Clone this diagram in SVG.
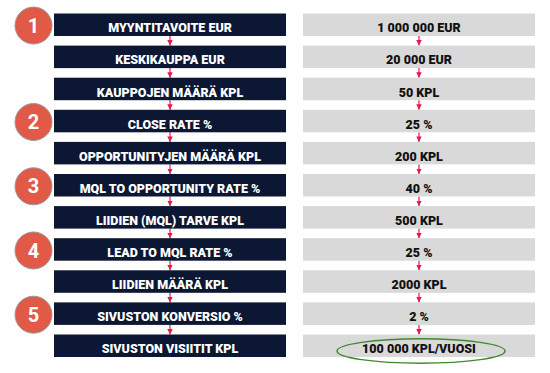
<svg xmlns="http://www.w3.org/2000/svg" width="550" height="373" viewBox="0 0 550 373">
<style>
.dk{fill:#0b1733}
.gr{fill:#d9d9d9}
.tw{font-family:Roboto,"Liberation Sans",sans-serif;font-weight:900;font-size:12.5px;fill:#ffffff;text-anchor:middle}
.tb{font-family:Roboto,"Liberation Sans",sans-serif;font-weight:900;font-size:12.5px;fill:#111111;text-anchor:middle}
.cir{fill:#e05a47;stroke:#9a9a9a;stroke-width:1}
.num{font-family:Roboto,"Liberation Sans",sans-serif;font-weight:700;font-size:20px;fill:#ffffff;text-anchor:middle}
.ar{stroke:#e8184d;stroke-width:1.2;fill:none;marker-end:url(#ah)}
</style>
<defs>
<marker id="ah" viewBox="0 0 6 6" refX="6" refY="3" markerWidth="5.5" markerHeight="5.5" markerUnits="userSpaceOnUse" orient="auto">
<path d="M0,0 L6,3 L0,6 z" fill="#e8184d"/>
</marker>
</defs>
<g id="connectors">
<line class="ar" x1="170" y1="36" x2="170" y2="45.6"/>
<line class="ar" x1="170" y1="68.1" x2="170" y2="77.7"/>
<line class="ar" x1="170" y1="100.2" x2="170" y2="109.8"/>
<line class="ar" x1="170" y1="132.3" x2="170" y2="141.9"/>
<line class="ar" x1="170" y1="164.4" x2="170" y2="174"/>
<line class="ar" x1="170" y1="196.5" x2="170" y2="206.1"/>
<line class="ar" x1="170" y1="228.6" x2="170" y2="238.2"/>
<line class="ar" x1="170" y1="260.7" x2="170" y2="270.3"/>
<line class="ar" x1="170" y1="292.8" x2="170" y2="302.4"/>
<line class="ar" x1="170" y1="324.9" x2="170" y2="334.5"/>
<line class="ar" x1="419" y1="36" x2="419" y2="45.6"/>
<line class="ar" x1="419" y1="68.1" x2="419" y2="77.7"/>
<line class="ar" x1="419" y1="100.2" x2="419" y2="109.8"/>
<line class="ar" x1="419" y1="132.3" x2="419" y2="141.9"/>
<line class="ar" x1="419" y1="164.4" x2="419" y2="174"/>
<line class="ar" x1="419" y1="196.5" x2="419" y2="206.1"/>
<line class="ar" x1="419" y1="228.6" x2="419" y2="238.2"/>
<line class="ar" x1="419" y1="260.7" x2="419" y2="270.3"/>
<line class="ar" x1="419" y1="292.8" x2="419" y2="302.4"/>
<line class="ar" x1="419" y1="324.9" x2="419" y2="334.5"/>
</g>
<g id="n0"><rect class="dk" x="54" y="13.5" width="232" height="22.5"/><text class="tw" x="170" y="32.3">MYYNTITAVOITE EUR</text></g>
<g id="n1"><rect class="dk" x="54" y="45.6" width="232" height="22.5"/><text class="tw" x="170" y="64.4">KESKIKAUPPA EUR</text></g>
<g id="n2"><rect class="dk" x="54" y="77.7" width="232" height="22.5"/><text class="tw" x="170" y="96.5">KAUPPOJEN MÄÄRÄ KPL</text></g>
<g id="n3"><rect class="dk" x="54" y="109.8" width="232" height="22.5"/><text class="tw" x="170" y="128.6">CLOSE RATE %</text></g>
<g id="n4"><rect class="dk" x="54" y="141.9" width="232" height="22.5"/><text class="tw" x="170" y="160.7">OPPORTUNITYJEN MÄÄRÄ KPL</text></g>
<g id="n5"><rect class="dk" x="54" y="174" width="232" height="22.5"/><text class="tw" x="170" y="192.8">MQL TO OPPORTUNITY RATE %</text></g>
<g id="n6"><rect class="dk" x="54" y="206.1" width="232" height="22.5"/><text class="tw" x="170" y="224.9">LIIDIEN (MQL) TARVE KPL</text></g>
<g id="n7"><rect class="dk" x="54" y="238.2" width="232" height="22.5"/><text class="tw" x="170" y="257">LEAD TO MQL RATE %</text></g>
<g id="n8"><rect class="dk" x="54" y="270.3" width="232" height="22.5"/><text class="tw" x="170" y="289.1">LIIDIEN MÄÄRÄ KPL</text></g>
<g id="n9"><rect class="dk" x="54" y="302.4" width="232" height="22.5"/><text class="tw" x="170" y="321.2">SIVUSTON KONVERSIO %</text></g>
<g id="n10"><rect class="dk" x="54" y="334.5" width="232" height="22.5"/><text class="tw" x="170" y="353.3">SIVUSTON VISIITIT KPL</text></g>
<g id="v0"><rect class="gr" x="303" y="13.5" width="232" height="22.5"/><text class="tb" x="419" y="32.3">1 000 000 EUR</text></g>
<g id="v1"><rect class="gr" x="303" y="45.6" width="232" height="22.5"/><text class="tb" x="419" y="64.4">20 000 EUR</text></g>
<g id="v2"><rect class="gr" x="303" y="77.7" width="232" height="22.5"/><text class="tb" x="419" y="96.5">50 KPL</text></g>
<g id="v3"><rect class="gr" x="303" y="109.8" width="232" height="22.5"/><text class="tb" x="419" y="128.6">25 %</text></g>
<g id="v4"><rect class="gr" x="303" y="141.9" width="232" height="22.5"/><text class="tb" x="419" y="160.7">200 KPL</text></g>
<g id="v5"><rect class="gr" x="303" y="174" width="232" height="22.5"/><text class="tb" x="419" y="192.8">40 %</text></g>
<g id="v6"><rect class="gr" x="303" y="206.1" width="232" height="22.5"/><text class="tb" x="419" y="224.9">500 KPL</text></g>
<g id="v7"><rect class="gr" x="303" y="238.2" width="232" height="22.5"/><text class="tb" x="419" y="257">25 %</text></g>
<g id="v8"><rect class="gr" x="303" y="270.3" width="232" height="22.5"/><text class="tb" x="419" y="289.1">2000 KPL</text></g>
<g id="v9"><rect class="gr" x="303" y="302.4" width="232" height="22.5"/><text class="tb" x="419" y="321.2">2 %</text></g>
<g id="v10"><rect class="gr" x="303" y="334.5" width="232" height="22.5"/><ellipse cx="421" cy="351" rx="84" ry="12.2" fill="none" stroke="#3f8a30" stroke-width="1.5"/><text class="tb" x="419" y="353.3">100 000 KPL/VUOSI</text></g>
<g id="c1"><circle class="cir" cx="33.5" cy="25.5" r="18.5"/><text class="num" x="33.5" y="32.5">1</text></g>
<g id="c2"><circle class="cir" cx="33.5" cy="122" r="18.5"/><text class="num" x="33.5" y="129">2</text></g>
<g id="c3"><circle class="cir" cx="33.5" cy="186.3" r="18.5"/><text class="num" x="33.5" y="193.3">3</text></g>
<g id="c4"><circle class="cir" cx="33.5" cy="250.5" r="18.5"/><text class="num" x="33.5" y="257.5">4</text></g>
<g id="c5"><circle class="cir" cx="33.5" cy="314.7" r="18.5"/><text class="num" x="33.5" y="321.7">5</text></g>
</svg>
